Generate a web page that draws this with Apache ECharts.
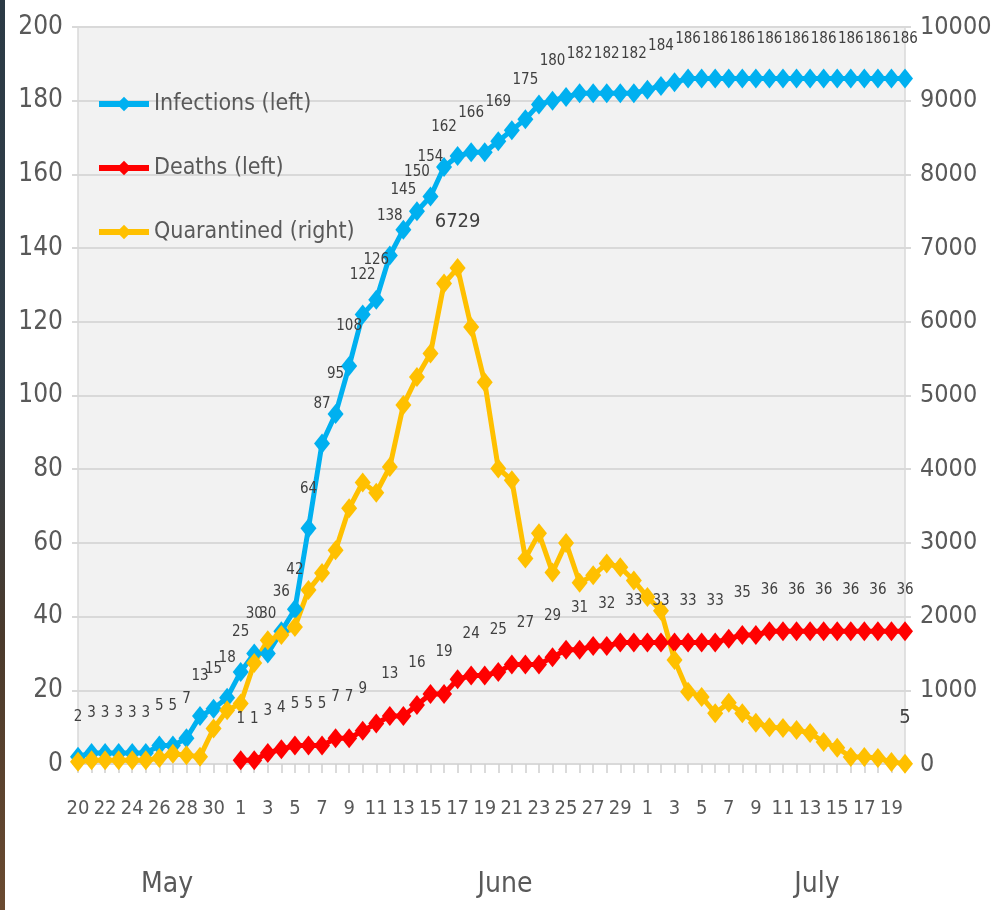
<!DOCTYPE html>
<html>
<head>
<meta charset="utf-8">
<script src="https://cdn.jsdelivr.net/npm/echarts@6/dist/echarts.min.js"></script>
<style>
html,body{margin:0;padding:0;background:#fff;}
#main{width:998px;height:910px;}
</style>
</head>
<body>
<div id="main"></div>
<script>
const categories = [
 'May 20','May 21','May 22','May 23','May 24','May 25','May 26','May 27','May 28','May 29','May 30','May 31',
 'Jun 1','Jun 2','Jun 3','Jun 4','Jun 5','Jun 6','Jun 7','Jun 8','Jun 9','Jun 10',
 'Jun 11','Jun 12','Jun 13','Jun 14','Jun 15','Jun 16','Jun 17','Jun 18','Jun 19','Jun 20',
 'Jun 21','Jun 22','Jun 23','Jun 24','Jun 25','Jun 26','Jun 27','Jun 28','Jun 29','Jun 30',
 'Jul 1','Jul 2','Jul 3','Jul 4','Jul 5','Jul 6','Jul 7','Jul 8','Jul 9','Jul 10',
 'Jul 11','Jul 12','Jul 13','Jul 14','Jul 15','Jul 16','Jul 17','Jul 18','Jul 19','Jul 20'
];
const months = ['May', 'June', 'July'];
const infections = [
 2,3,3,3,3,3,5,5,7,13,15,18,
 25,30,30,36,42,64,87,95,108,122,
 126,138,145,150,154,162,165,166,166,169,
 172,175,179,180,181,182,182,182,182,182,
 183,184,185,186,186,186,186,186,186,186,
 186,186,186,186,186,186,186,186,186,186
];
const deaths = [
 null,null,null,null,null,null,null,null,null,null,null,null,
 1,1,3,4,5,5,5,7,7,9,
 11,13,13,16,19,19,23,24,24,25,
 27,27,27,29,31,31,32,32,33,33,
 33,33,33,33,33,33,34,35,35,36,
 36,36,36,36,36,36,36,36,36,36
];
const quarantined = [
 30,50,50,50,50,50,80,140,120,100,480,730,
 820,1370,1680,1750,1860,2360,2590,2900,3470,3820,
 3680,4030,4870,5250,5570,6520,6729,5930,5180,4010,
 3850,2790,3130,2600,3000,2460,2560,2720,2670,2490,
 2265,2080,1410,980,910,690,830,690,560,500,
 490,460,420,300,220,95,95,80,27,5
];
const seriesNames = ['Infections (left)', 'Deaths (left)', 'Quarantined (right)'];
const leftTicks = [0, 200, 20];
const rightTicks = [0, 10000, 1000];

const FONT = '"DejaVu Sans Condensed", "DejaVu Sans", sans-serif';
const GRID = {left: 78, right: 93, top: 27, bottom: 146};
const SYM = [16, 20];

const chart = echarts.init(document.getElementById('main'));

function lbl(rule, size, dist) {
  return {
    show: true, position: 'top', distance: dist,
    color: '#404040', fontFamily: FONT, fontSize: size,
    formatter: p => (p.value == null || !rule(p.dataIndex)) ? '' : String(p.value)
  };
}

const option = {
  backgroundColor: '#ffffff',
  animation: false,
  grid: Object.assign({show: true, backgroundColor: '#f2f2f2', borderWidth: 0, outerBoundsMode: 'none', containLabel: false}, GRID),
  legend: {
    orient: 'vertical', left: 91, top: 84,
    itemWidth: 50, itemHeight: 18, itemGap: 34,
    lineStyle: {width: 6},
    textStyle: {fontFamily: FONT, fontSize: 23, color: '#595959', lineHeight: 30},
    data: seriesNames
  },
  xAxis: {
    type: 'category', data: categories, boundaryGap: false,
    axisLine: {show: true, lineStyle: {color: '#d9d9d9', width: 1}},
    axisTick: {show: true, interval: 0, length: 9, lineStyle: {color: '#d0d0d0', width: 1.5}},
    axisLabel: {interval: 1, margin: 35, color: '#595959', fontFamily: FONT, fontSize: 20,
      showMinLabel: true, hideOverlap: false,
      formatter: v => v.split(' ')[1]},
    splitLine: {show: false}
  },
  yAxis: [
    {type: 'value', min: leftTicks[0], max: leftTicks[1], interval: leftTicks[2], position: 'left',
     axisLine: {show: true, lineStyle: {color: '#d9d9d9', width: 1.5}},
     axisTick: {show: true, length: 6, lineStyle: {color: '#d9d9d9', width: 2}},
     axisLabel: {color: '#595959', fontFamily: FONT, fontSize: 26, margin: 15, formatter: v => String(v)},
     splitLine: {show: true, lineStyle: {color: '#d9d9d9', width: 2}}},
    {type: 'value', min: rightTicks[0], max: rightTicks[1], interval: rightTicks[2], position: 'right',
     axisLine: {show: true, lineStyle: {color: '#d9d9d9', width: 1.5}},
     axisTick: {show: true, length: 6, lineStyle: {color: '#d9d9d9', width: 2}},
     axisLabel: {color: '#595959', fontFamily: FONT, fontSize: 25, margin: 15, formatter: v => String(v)},
     splitLine: {show: false}}
  ],
  series: [
    {name: seriesNames[0], type: 'line', data: infections, yAxisIndex: 0,
     symbol: 'diamond', symbolSize: SYM, showAllSymbol: true,
     lineStyle: {color: '#00b0f0', width: 5}, itemStyle: {color: '#00b0f0'},
     label: lbl(i => i <= 26 || i % 2 === 1, 15, 22)},
    {name: seriesNames[1], type: 'line', data: deaths, yAxisIndex: 0,
     symbol: 'diamond', symbolSize: SYM, showAllSymbol: true,
     lineStyle: {color: '#ff0000', width: 5}, itemStyle: {color: '#ff0000'},
     label: lbl(i => i <= 21 || i % 2 === 1, 15, 24)},
    {name: seriesNames[2], type: 'line', data: quarantined, yAxisIndex: 1,
     symbol: 'diamond', symbolSize: SYM, showAllSymbol: true,
     lineStyle: {color: '#ffc000', width: 5}, itemStyle: {color: '#ffc000'},
     label: lbl(i => i === 28 || i === quarantined.length - 1, 20, 26)}
  ],
  graphic: [
    {type: 'rect', shape: {x: 0, y: 0, width: 5, height: 910}, silent: true,
     style: {fill: new echarts.graphic.LinearGradient(0, 0, 0, 1, [
       {offset: 0, color: '#2b3a45'}, {offset: 0.45, color: '#33404a'},
       {offset: 0.7, color: '#4a3a2c'}, {offset: 1, color: '#6a4a30'}])}},
    {type: 'text', x: 167, y: 885, silent: true,
     style: {text: months[0], textAlign: 'center', textVerticalAlign: 'middle', fill: '#595959', fontFamily: FONT, fontSize: 28}},
    {type: 'text', x: 505, y: 885, silent: true,
     style: {text: months[1], textAlign: 'center', textVerticalAlign: 'middle', fill: '#595959', fontFamily: FONT, fontSize: 28}},
    {type: 'text', x: 817, y: 885, silent: true,
     style: {text: months[2], textAlign: 'center', textVerticalAlign: 'middle', fill: '#595959', fontFamily: FONT, fontSize: 28}}
  ]
};
chart.setOption(option);
</script>
</body>
</html>
